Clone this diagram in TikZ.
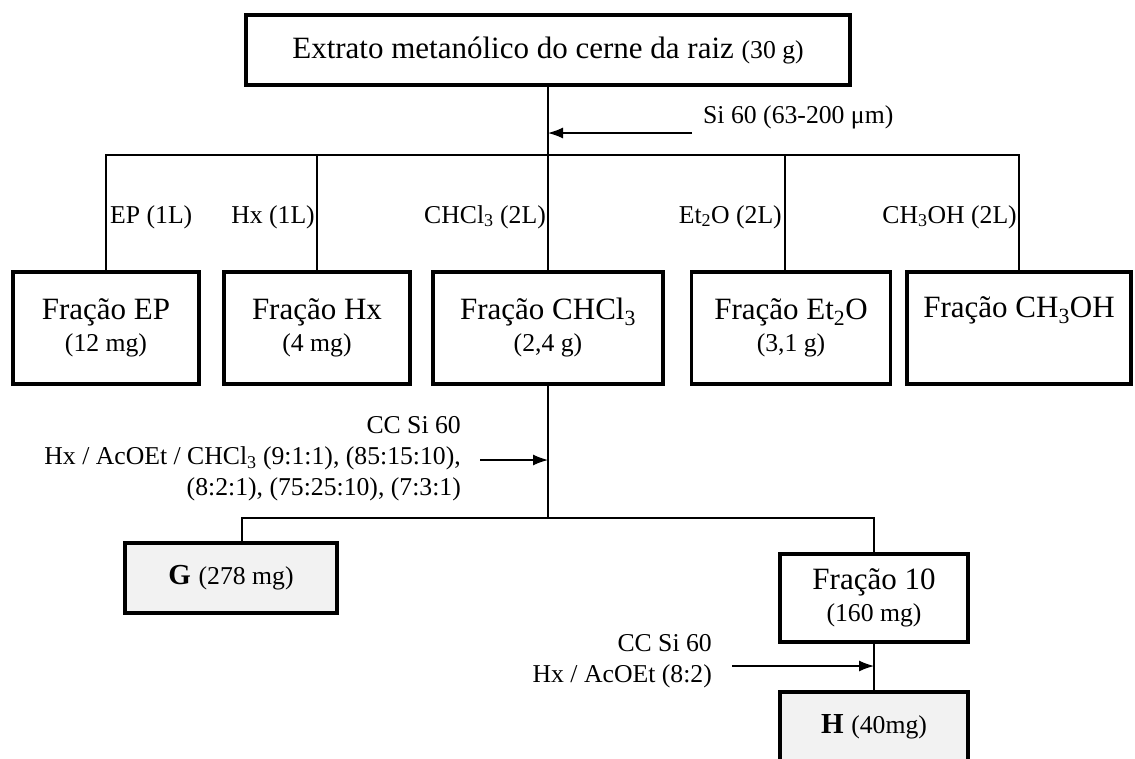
\documentclass[tikz,border=0pt]{standalone}
\usepackage{fontspec}
\setmainfont{Liberation Serif}
\usetikzlibrary{arrows.meta}
\newcommand{\massa}[1]{{\fontsize{25.7}{29}\selectfont #1}}
\begin{document}
\begin{tikzpicture}[
      x=1pt, y=-1pt,
      >={Latex[length=15pt,width=11pt]},
      fracbox/.style={
          rectangle, draw, line width=3.5pt,
          minimum height=112pt, align=center, inner sep=2pt,
          font=\fontsize{31}{32}\selectfont
      },
      endbox/.style={
          fracbox, fill=endgray, minimum height=70pt
      },
      solvlabel/.style={
          font=\fontsize{25.7}{31}\selectfont, inner sep=1pt
      },
      link/.style={line width=1.3pt}
  ]
    \definecolor{endgray}{HTML}{F2F2F2}
    \clip (0,0) rectangle (1135,758);
    \fill[white] (0,0) rectangle (1135,758);

    % (a) Extract
    \node[fracbox, minimum width=604pt, minimum height=70pt] (extrato) at (548,50)
        {Extrato metanólico do cerne da raiz \massa{(30 g)}};
    \coordinate (bus) at (548,155);
    \coordinate (siarrow) at (692,133);
    \node[solvlabel, anchor=west] (silbl) at (702,117) {Si 60 (63-200 μm)};

    % (b) Fractions of the first column
    \node[fracbox, minimum width=186pt] (ep) at (106,328) {Fração EP\\\massa{(12 mg)}};
    \node[fracbox, minimum width=186pt] (hx) at (317,328) {Fração Hx\\\massa{(4 mg)}};
    \node[fracbox, minimum width=230pt] (chcl) at (548,328) {Fração CHCl\textsubscript{3}\\\massa{(2,4 g)}};
    \node[fracbox, minimum width=199pt] (et) at (791,328) {Fração Et\textsubscript{2}O\\\massa{(3,1 g)}};
    \node[fracbox, minimum width=224pt] (meoh) at (1019,328) {Fração CH\textsubscript{3}OH\\\strut};

    \node[solvlabel, anchor=west] (eplbl) at (109,217) {EP (1L)};
    \node[solvlabel, anchor=east] (hxlbl) at (316,217) {Hx (1L)};
    \node[solvlabel, anchor=east] (chcllbl) at (547,217) {CHCl\textsubscript{3} (2L)};
    \node[solvlabel, anchor=east] (etlbl) at (783,217) {Et\textsubscript{2}O (2L)};
    \node[solvlabel, anchor=east] (meohlbl) at (1018,217) {CH\textsubscript{3}OH (2L)};

    % (c) CC of the CHCl3 fraction
    \coordinate (bus2) at (548,518);
    \coordinate (ccarrow) at (480,460);
    \node[solvlabel, anchor=east, align=right] (cclbl) at (462,459)
        {CC Si 60\\Hx / AcOEt / CHCl\textsubscript{3} (9:1:1), (85:15:10),\\(8:2:1), (75:25:10), (7:3:1)};
    \node[endbox, minimum width=212pt] (g) at (231,578)
        {{\fontsize{29}{32}\selectfont\textbf{G}} \massa{(278 mg)}};
    \node[fracbox, minimum width=188pt, minimum height=88pt] (f10) at (874,598) {Fração 10\\\massa{(160 mg)}};

    % (d) CC of fraction 10
    \coordinate (cc2arrow) at (732,666);
    \node[solvlabel, anchor=east, align=right] (cc2lbl) at (713,661) {CC Si 60\\Hx / AcOEt (8:2)};
    \node[endbox, minimum width=188pt] (h) at (874,727)
        {{\fontsize{29}{32}\selectfont\textbf{H}} \massa{(40mg)}};

    % Edges
    \draw[link] (extrato.south -| bus) -- (bus);
    \foreach \f in {ep,hx,chcl,meoh}
        \draw[link] (bus) -| (\f.north);
    \draw[link] (bus) -| ([xshift=-6pt]et.north);
    \draw[link, ->] (siarrow) -- (siarrow -| bus);
    \draw[link] (chcl.south) -- (bus2);
    \draw[link] (bus2) -| ([xshift=11pt]g.north);
    \draw[link] (bus2) -| (f10.north);
    \draw[link, ->] (ccarrow) -- (ccarrow -| bus2);
    \draw[link] (f10.south) -- (h.north);
    \draw[link, ->] (cc2arrow) -- (cc2arrow -| f10.south);
\end{tikzpicture}
\end{document}
